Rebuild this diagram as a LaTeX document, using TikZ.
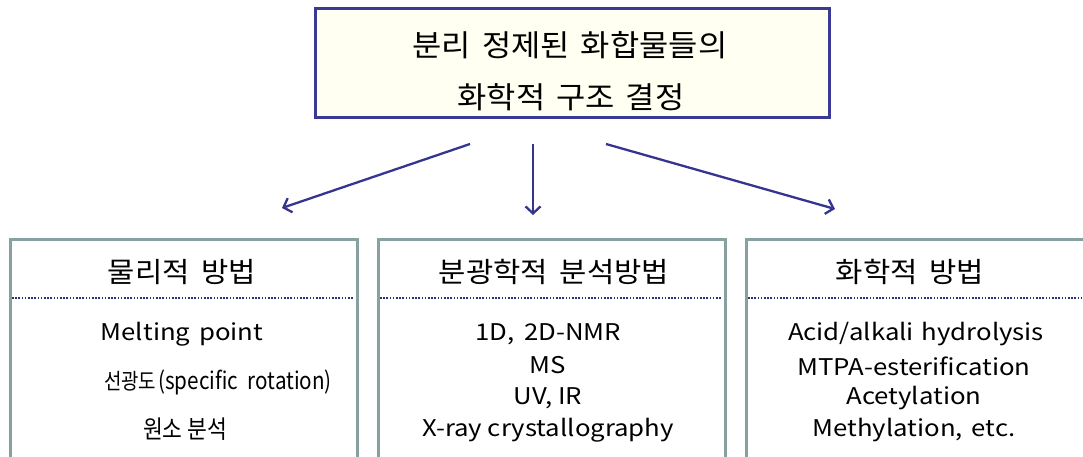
\documentclass[tikz,border=0pt]{standalone}
\usepackage{fontspec}
\setmainfont{Noto Sans CJK KR}
\newfontfamily\itemfont[FakeStretch=1.12]{Noto Sans CJK KR}
\newfontfamily\headfont[FakeStretch=1.06]{Noto Sans CJK KR}
\newfontfamily\condfont[FakeStretch=0.86]{Noto Sans CJK KR}
\usetikzlibrary{arrows.meta}
\definecolor{topborder}{HTML}{3A3A94}
\definecolor{topfill}{HTML}{FFFFF2}
\definecolor{boxborder}{HTML}{87A0A0}
\definecolor{dotcol}{HTML}{24337A}
\definecolor{arrowcol}{HTML}{35358F}
\newcommand{\wsA}{\hspace{11pt}}
\newcommand{\wsB}{\hspace{12pt}}
\begin{document}
\begin{tikzpicture}[x=1pt,y=-1pt,
  catbox/.style={draw=boxborder,line width=3pt},
  dotline/.style={draw=dotcol,line width=2pt,dash pattern=on 1.6pt off 1.6pt},
  arr/.style={draw=arrowcol,line width=2.3pt,-{Straight Barb[length=7pt,width=15pt,line width=2.3pt]}},
  toptext/.style={font=\headfont\fontsize{30}{34}\selectfont,anchor=center},
  titletext/.style={font=\headfont\fontsize{28}{32}\selectfont,anchor=center},
  itemtext/.style={font=\itemfont\fontsize{23}{26}\selectfont,anchor=center}]
\useasboundingbox (0,0) rectangle (1083,457);
\clip (0,0) rectangle (1083,457);
% top box
\node[draw=topborder,fill=topfill,line width=3pt,minimum width=514pt,minimum height=109pt,anchor=north west,inner sep=0] (top) at (314,7) {};
\node[toptext] (t1) at (570,45) {분리\wsA 정제된\wsA 화합물들의};
\node[toptext] (t2) at (571,97) {화학적\wsA 구조\wsA 결정};
% arrows
\coordinate (s1) at (470,144); \coordinate (e1) at (282,208);
\coordinate (s2) at (533,144); \coordinate (e2) at (533,215);
\coordinate (s3) at (606,144); \coordinate (e3) at (835,209);
\draw[arr] (s1) -- (e1);
\draw[arr] (s2) -- (e2);
\draw[arr] (s3) -- (e3);
% boxes
\node[catbox,minimum width=347pt,minimum height=240pt,anchor=north west,inner sep=0] (b1) at (9,238) {};
\node[catbox,minimum width=347pt,minimum height=240pt,anchor=north west,inner sep=0] (b2) at (377,238) {};
\node[catbox,minimum width=347pt,minimum height=240pt,anchor=north west,inner sep=0] (b3) at (745,238) {};
% dotted lines
\coordinate (d1a) at (12,298); \coordinate (d1b) at (353,298);
\coordinate (d2a) at (380,298); \coordinate (d2b) at (721,298);
\coordinate (d3a) at (748,298); \coordinate (d3b) at (1083,298);
\draw[dotline] (d1a) -- (d1b);
\draw[dotline] (d2a) -- (d2b);
\draw[dotline] (d3a) -- (d3b);
% titles
\node[titletext] (h1) at (182,272) {물리적\wsB 방법};
\node[titletext] (h2) at (554,272) {분광학적\wsB 분석방법};
\node[titletext] (h3) at (910,272) {화학적\wsB 방법};
% items
\node[itemtext] (i11) at (182,334) {Melting\hspace{3pt} point};
\node[font=\condfont\fontsize{24}{26}\selectfont,anchor=center] (i12) at (218,382) {{\fontsize{22}{24}\selectfont 선광도\hspace{2pt}}(specific\hspace{5pt} rotation)};
\node[font=\condfont\fontsize{25}{28}\selectfont,anchor=center] (i13) at (185,429) {원소 분석};
\node[itemtext] (i21) at (548,334) {1D,\hspace{4pt} 2D-NMR};
\node[itemtext] (i22) at (548,365) {MS};
\node[itemtext] (i23) at (548,398) {UV, IR};
\node[itemtext] (i24) at (548,430) {X-ray crystallography};
\node[itemtext] (i31) at (916,334) {Acid/alkali\hspace{2pt} hydrolysis};
\node[itemtext] (i32) at (914,366) {MTPA-esterification};
\node[itemtext] (i33) at (914,398) {Acetylation};
\node[itemtext] (i34) at (914,430) {Methylation,\hspace{3pt} etc.};
\end{tikzpicture}
\end{document}
